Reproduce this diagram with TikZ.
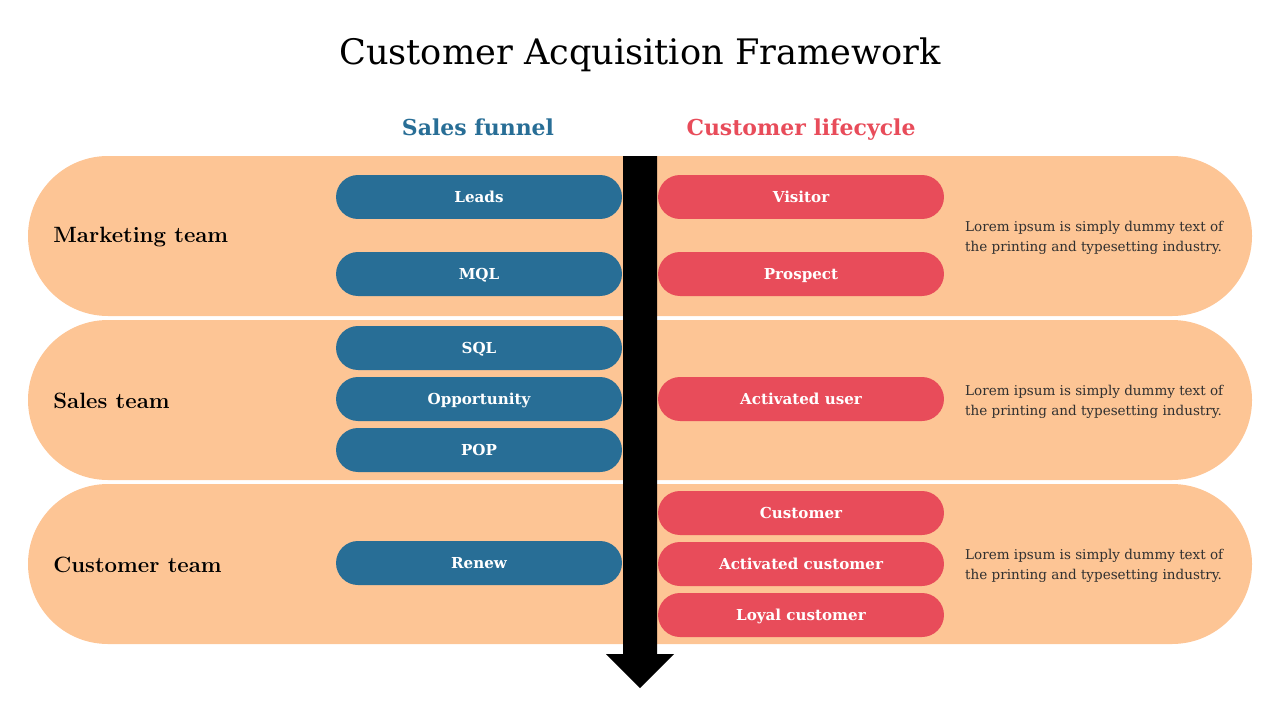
\documentclass[tikz,border=0pt]{standalone}
\usepackage{fontspec}
\usepackage{tikz}
\usetikzlibrary{positioning}
\newfontfamily\georgia{DejaVu Serif}
\definecolor{bandorange}{HTML}{FDC595}
\definecolor{funnelblue}{HTML}{286E96}
\definecolor{lifered}{HTML}{E84C5A}
\definecolor{loremgray}{HTML}{303030}

\begin{document}
\begin{tikzpicture}[x=0.02cm,y=-0.02cm]

    \tikzset{band/.style={fill=bandorange,rounded corners=1.6cm}}
    \tikzset{pill/.style={rounded corners=0.44cm,minimum width=5.72cm,minimum height=0.88cm,
      inner sep=0pt,text height=0.75em,text depth=0.12em,text=white,
      font=\georgia\bfseries\fontsize{8.6}{10}\selectfont}}
    \tikzset{funnel/.style={pill,fill=funnelblue}}
    \tikzset{stage/.style={pill,fill=lifered}}
    \tikzset{team/.style={anchor=west,inner sep=0pt,font=\bfseries\fontsize{12.6}{14}\selectfont}}
    \tikzset{head/.style={anchor=base,font=\georgia\bfseries\fontsize{12.5}{15}\selectfont}}
    \tikzset{lorem/.style={anchor=west,align=left,text=loremgray,
      font=\georgia\fontsize{7.7}{11.3}\selectfont}}

    \useasboundingbox (0,0) rectangle (1280,720);

    % title and column heads
    \node[anchor=base] (title) at (640,64) {\georgia\fontsize{20}{24}\selectfont Customer Acquisition Framework};
    \node[head,text=funnelblue] (funnelhead) at (478,135) {Sales funnel};
    \node[head,text=lifered] (lifehead) at (801,135) {Customer lifecycle};

    % team bands
    \fill[band] (28,156) rectangle (1252,316);
    \fill[band] (28,320) rectangle (1252,480);
    \fill[band] (28,484) rectangle (1252,644);

    % time arrow
    \fill[black] (623,156) -- (657,156) -- (657,654) -- (674,654) -- (640,688)
      -- (606,654) -- (623,654) -- cycle;

    \node[team] (marketing) at (53,237) {Marketing team};
    \node[team] (sales) at (53,401) {Sales team};
    \node[team] (customerteam) at (53,565) {Customer team};

    % sales funnel
    \node[funnel] (leads) at (479,197) {Leads};
    \node[funnel] (mql) at (479,274) {MQL};
    \node[funnel] (sql) at (479,348) {SQL};
    \node[funnel] (opportunity) at (479,399) {Opportunity};
    \node[funnel] (pop) at (479,450) {POP};
    \node[funnel] (renew) at (479,563) {Renew};

    % customer lifecycle
    \node[stage] (visitor) at (801,197) {Visitor};
    \node[stage] (prospect) at (801,274) {Prospect};
    \node[stage] (activateduser) at (801,399) {Activated user};
    \node[stage] (customer) at (801,513) {Customer};
    \node[stage] (activatedcustomer) at (801,564) {Activated customer};
    \node[stage] (loyal) at (801,615) {Loyal customer};

    \node[lorem] (lorema) at (959,238) {Lorem ipsum is simply dummy text of\\the printing and typesetting industry.};
    \node[lorem] (loremb) at (959,402) {Lorem ipsum is simply dummy text of\\the printing and typesetting industry.};
    \node[lorem] (loremc) at (959,566) {Lorem ipsum is simply dummy text of\\the printing and typesetting industry.};

\end{tikzpicture}
\end{document}
